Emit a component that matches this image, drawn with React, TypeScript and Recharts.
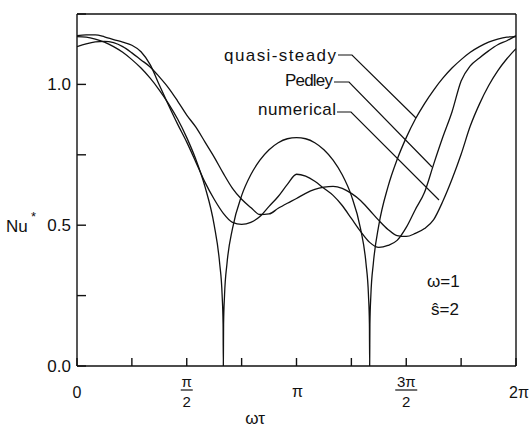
import { LineChart, Line, XAxis, YAxis } from 'recharts';

// phase ωτ in degrees (0..360 = 0..2π)
const phaseDeg = [
  0, 7.5, 15, 22.5, 30, 37.5, 45, 52.5, 60, 67.5, 75, 82.5, 90, 97.5, 105, 112.5,
  120, 127.5, 135, 142.5, 150, 157.5, 165, 172.5, 180, 187.5, 195, 202.5, 210, 217.5,
  225, 232.5, 240, 247.5, 255, 262.5, 270, 277.5, 285, 292.5, 300, 307.5, 315, 322.5,
  330, 337.5, 345, 352.5, 360,
];

const pedley = [
  1.173, 1.176, 1.176, 1.169, 1.159, 1.150, 1.139, 1.116, 1.070, 0.998,
  0.927, 0.859, 0.795, 0.724, 0.652, 0.592, 0.542, 0.510, 0.503, 0.510,
  0.531, 0.567, 0.602, 0.645, 0.681, 0.674, 0.656, 0.631, 0.606, 0.570,
  0.524, 0.478, 0.439, 0.421, 0.428, 0.446, 0.492, 0.556, 0.617, 0.717,
  0.813, 0.902, 1.012, 1.066, 1.094, 1.119, 1.141, 1.155, 1.173,
];

const numerical = [
  1.134, 1.144, 1.151, 1.153, 1.148, 1.134, 1.112, 1.087, 1.062, 1.027,
  0.988, 0.941, 0.891, 0.848, 0.795, 0.742, 0.684, 0.631, 0.592, 0.563,
  0.538, 0.540, 0.560, 0.578, 0.595, 0.613, 0.627, 0.635, 0.638, 0.631,
  0.613, 0.588, 0.553, 0.517, 0.485, 0.463, 0.460, 0.471, 0.488, 0.520,
  0.585, 0.663, 0.752, 0.852, 0.930, 0.995, 1.048, 1.091, 1.127,
];

// quasi-steady has its own, denser phase list around the two cusps
const quasiDeg = [
  0, 7.5, 15, 22.5, 30, 37.5, 45, 52.5, 60, 67.5, 75, 82.5, 90, 97.5, 105, 112.5,
  117, 119, 119.8, 120, 120.2, 121, 123,
  127.5, 135, 142.5, 150, 157.5, 165, 172.5, 180, 187.5, 195, 202.5, 210, 217.5, 225, 232.5,
  237, 239, 239.8, 240, 240.2, 241, 243,
  247.5, 255, 262.5, 270, 277.5, 285, 292.5, 300, 307.5, 315, 322.5, 330, 337.5, 345, 352.5, 360,
];

const quasiSteady = [
  1.170, 1.168, 1.161, 1.150, 1.134, 1.114, 1.088, 1.058, 1.022, 0.980, 0.932, 0.877, 0.811, 0.733, 0.636, 0.500,
  0.364, 0.253, 0.148, 0, 0.148, 0.253, 0.364,
  0.488, 0.605, 0.679, 0.731, 0.768, 0.793, 0.807, 0.811, 0.807, 0.793, 0.768, 0.731, 0.679, 0.605, 0.488,
  0.364, 0.253, 0.148, 0, 0.148, 0.253, 0.364,
  0.500, 0.636, 0.733, 0.811, 0.877, 0.932, 0.980, 1.022, 1.058, 1.088, 1.114, 1.134, 1.150, 1.161, 1.168, 1.170,
];

const xTicks = [0, 45, 90, 135, 180, 225, 270, 315, 360];
const yTicks = [0, 0.25, 0.5, 0.75, 1.0, 1.25];
const yLabels: Record<string, string> = { '0': '0.0', '0.5': '0.5', '1': '1.0' };

const FONT = "'Liberation Sans', Arial, sans-serif";
const INK = '#111';

const pedleyData = phaseDeg.map((deg, i) => ({ deg, v: pedley[i] }));
const numericalData = phaseDeg.map((deg, i) => ({ deg, v: numerical[i] }));
const quasiData = quasiDeg.map((deg, i) => ({ deg, v: quasiSteady[i] }));

function PiTick(props: any) {
  const { x, y, payload } = props;
  const v = payload.value;
  const txt = { fontFamily: FONT, fill: INK, textAnchor: 'middle' as const };
  if (v === 0) return <text x={x} y={y + 6} fontSize={16} {...txt}>0</text>;
  if (v === 180) return <text x={x + 1} y={y + 5} fontSize={16} {...txt}>π</text>;
  if (v === 360) return <text x={x + 3} y={y + 6} fontSize={16} {...txt}>2π</text>;
  if (v === 90 || v === 270) {
    const num = v === 90 ? 'π' : '3π';
    const w = v === 90 ? 12 : 22;
    return (
      <g>
        <text x={x} y={y - 5} fontSize={15} {...txt}>{num}</text>
        <line x1={x - w / 2} x2={x + w / 2} y1={y - 2} y2={y - 2} stroke={INK} strokeWidth={1.2} />
        <text x={x} y={y + 15} fontSize={15} {...txt}>2</text>
      </g>
    );
  }
  return <g />;
}

const axisStyle = { stroke: INK, strokeWidth: 1.4 };

export default function App() {
  return (
    <div style={{ position: 'absolute', left: 0, top: 0, width: 529, height: 429, background: '#fff' }}>
      <LineChart width={529} height={429} margin={{ top: 0, right: 0, bottom: 0, left: 0 }}>
        <XAxis
          xAxisId="b"
          dataKey="deg"
          type="number"
          domain={[0, 360]}
          ticks={xTicks}
          interval={0}
          height={63}
          tickSize={-8}
          tickMargin={34}
          tick={<PiTick />}
          axisLine={axisStyle}
          tickLine={axisStyle}
          allowDataOverflow
        />
        <XAxis
          xAxisId="t"
          orientation="top"
          dataKey="deg"
          type="number"
          domain={[0, 360]}
          ticks={xTicks}
          interval={0}
          height={14}
          tickSize={-8}
          tickFormatter={() => ''}
          axisLine={axisStyle}
          tickLine={axisStyle}
        />
        <YAxis
          yAxisId="l"
          type="number"
          domain={[0, 1.25]}
          ticks={yTicks}
          interval={0}
          width={77}
          tickSize={-9}
          tickMargin={15}
          tickFormatter={(v: number) => yLabels[String(v)] ?? ''}
          tick={{ fontFamily: FONT, fontSize: 17, fill: INK }}
          axisLine={axisStyle}
          tickLine={axisStyle}
          allowDataOverflow
        />
        <YAxis
          yAxisId="r"
          orientation="right"
          type="number"
          domain={[0, 1.25]}
          ticks={yTicks}
          interval={0}
          width={13}
          tickSize={-9}
          tickFormatter={() => ''}
          axisLine={axisStyle}
          tickLine={axisStyle}
        />
        <Line xAxisId="b" yAxisId="l" data={quasiData} dataKey="v" type="monotone" stroke={INK} strokeWidth={1.3} dot={false} isAnimationActive={false} />
        <Line xAxisId="b" yAxisId="l" data={pedleyData} dataKey="v" type="monotone" stroke={INK} strokeWidth={1.3} dot={false} isAnimationActive={false} />
        <Line xAxisId="b" yAxisId="l" data={numericalData} dataKey="v" type="monotone" stroke={INK} strokeWidth={1.3} dot={false} isAnimationActive={false} />
      </LineChart>
      <svg width={529} height={429} style={{ position: 'absolute', left: 0, top: 0, pointerEvents: 'none' }}>
        <g fontFamily={FONT} fill={INK} fontSize={17}>
          <text x={224} y={61} textLength={112} lengthAdjust="spacing">quasi-steady</text>
          <text x={285} y={86} textLength={48} lengthAdjust="spacing">Pedley</text>
          <text x={258} y={115} textLength={78} lengthAdjust="spacing">numerical</text>
          <text x={427} y={287}>ω=1</text>
          <text x={431} y={315}>ŝ=2</text>
          <text x={255} y={424} textAnchor="middle">ωτ</text>
          <text x={6} y={232}>Nu</text>
          <text x={31} y={221} fontSize={13}>*</text>
        </g>
        <g stroke={INK} strokeWidth={1.2} fill="none">
          <polyline points="338,55 352,55 416,118" />
          <polyline points="334,82 349,82 432,167" />
          <polyline points="337,112 351,112 439,200" />
        </g>
      </svg>
    </div>
  );
}
